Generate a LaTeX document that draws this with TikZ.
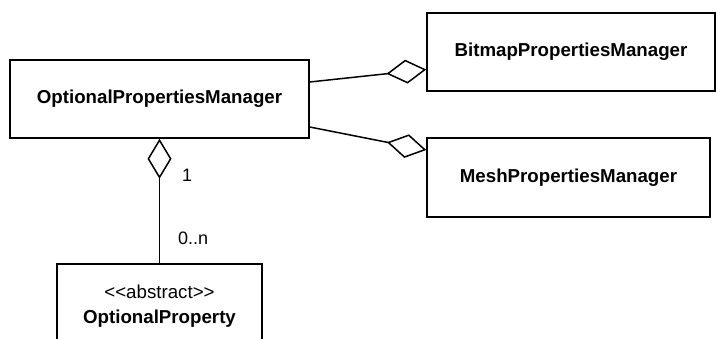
\documentclass[tikz,border=0pt]{standalone}
\usepackage{fontspec}
\setmainfont{Liberation Sans}
\usetikzlibrary{arrows.meta}
\begin{document}
\begin{tikzpicture}[x=1pt,y=-1pt,
  cls/.style={draw, line width=1.5pt, rectangle, inner sep=0pt, align=center,
    font=\fontsize{18.7}{20}\selectfont\bfseries},
  txt/.style={inner sep=0pt, anchor=base, font=\fontsize{18.7}{20}\selectfont},
  agg/.style={line width=1.5pt, {Diamond[open,length=40pt,width=24pt,line width=1.5pt]}-},
  mult/.style={font=\fontsize{18}{20}\selectfont, inner sep=0pt, anchor=west}]
  \useasboundingbox (0,0) rectangle (716,338);
  \clip (0,0) rectangle (716,338);
  \fill[white] (0,0) rectangle (716,338);

  % classes
  \node[cls, minimum width=299pt, minimum height=78pt] (opm) at (159.5,99) {OptionalPropertiesManager};
  \node[cls, minimum width=288pt, minimum height=78pt] (bpm) at (571,52) {BitmapPropertiesManager};
  \node[cls, minimum width=283pt, minimum height=79pt] (mpm) at (568.5,177.5) {MeshPropertiesManager};
  \node[cls, minimum width=205pt, minimum height=91pt] (prop) at (159.5,309.5) {};
  \node[txt] (stereo) at (159.5,298.3) {<{}<abstract>{}>};
  \node[txt, font=\fontsize{18.7}{20}\selectfont\bfseries] (pname) at (159.5,323.3) {OptionalProperty};

  % aggregations
  \draw[agg] ([yshift=-17.5pt]bpm.west) -- ([yshift=17pt]opm.east);
  \draw[agg] ([yshift=27.5pt]mpm.west) -- ([yshift=-28pt]opm.east);
  \draw[agg] (opm.south) -- (prop.north);

  % multiplicities
  \node[mult] (m1) at (182,175) {1};
  \node[mult] (mn) at (178,238) {0..n};
\end{tikzpicture}
\end{document}
